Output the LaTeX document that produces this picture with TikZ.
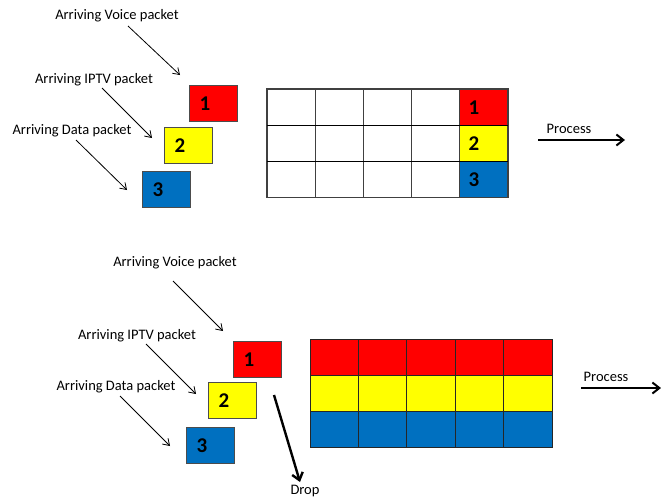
\documentclass[tikz,border=0pt]{standalone}
\usepackage{fontspec}
\setmainfont{Carlito}
\usetikzlibrary{arrows.meta}
\definecolor{pkred}{HTML}{FF0000}
\definecolor{pkyellow}{HTML}{FFFF00}
\definecolor{pkblue}{HTML}{0070C0}
\begin{document}
\begin{tikzpicture}[x=1pt,y=-1pt,
  packet/.style={draw=black!70, line width=1pt, minimum height=36pt,
    text width=28pt, inner xsep=10pt, inner ysep=0pt, align=left,
    font=\fontsize{21}{21}\selectfont\bfseries, anchor=north west},
  num/.style={font=\fontsize{21}{21}\selectfont\bfseries, inner sep=0pt},
  lbl/.style={font=\fontsize{14.5}{15}\selectfont, inner sep=0pt},
  feed/.style={line width=0.8pt, -{Straight Barb[length=6pt,width=8pt]}},
  flow/.style={line width=2pt, -{Straight Barb[length=7pt,width=11pt]}},
  cellline/.style={draw=black!75, line width=1.1pt}]
\useasboundingbox (0,0) rectangle (661,499);

% ---------- upper scenario ----------
\node[lbl] (tv) at (117,16) {Arriving Voice packet};
\node[lbl] (ti) at (94,80) {Arriving IPTV packet};
\node[lbl] (td) at (72,131) {Arriving Data packet};

\node[packet, fill=pkred]    (t1) at (189,85)  {1};
\node[packet, fill=pkyellow] (t2) at (164,127) {2};
\node[packet, fill=pkblue]   (t3) at (142,171) {3};

\coordinate (tva) at (128,26);  \coordinate (tvb) at (180,75);
\coordinate (tia) at (102,88);  \coordinate (tib) at (152,138);
\coordinate (tda) at (76,140);  \coordinate (tdb) at (127,190);
\draw[feed] (tva) -- (tvb);
\draw[feed] (tia) -- (tib);
\draw[feed] (tda) -- (tdb);

% queue: four empty columns and one filled column
\foreach \r/\col in {0/pkred,1/pkyellow,2/pkblue}{
  \foreach \c in {0,1,2,3}{
    \draw[cellline, fill=white] (267+48.2*\c, 89+36.3*\r) rectangle ++(48.2,36.3);
  }
  \draw[cellline, fill=\col] (267+48.2*4, 89+36.3*\r) rectangle ++(48.2,36.3);
}
\node[num] (q1) at (474,107.5) {1};
\node[num] (q2) at (474,143.8) {2};
\node[num] (q3) at (474,180.1) {3};
\draw[black, line width=1.6pt] (267,125.3) -- (508,125.3) (267,161.6) -- (508,161.6);

\node[lbl] (tp) at (569,129) {Process};
\coordinate (tpa) at (538,140); \coordinate (tpb) at (625,140);
\draw[flow] (tpa) -- (tpb);

% ---------- lower scenario ----------
\node[lbl] (bv) at (175,263) {Arriving Voice packet};
\node[lbl] (bi) at (137,336) {Arriving IPTV packet};
\node[lbl] (bd) at (116,387) {Arriving Data packet};

\node[packet, fill=pkred]    (b1) at (233,341) {1};
\node[packet, fill=pkyellow] (b2) at (208,382) {2};
\node[packet, fill=pkblue]   (b3) at (186,427) {3};

\coordinate (bva) at (173,281); \coordinate (bvb) at (223,331);
\coordinate (bia) at (146,344); \coordinate (bib) at (196,394);
\coordinate (bda) at (120,396); \coordinate (bdb) at (170,446);
\draw[feed] (bva) -- (bvb);
\draw[feed] (bia) -- (bib);
\draw[feed] (bda) -- (bdb);

% full queue
\foreach \r/\col in {0/pkred,1/pkyellow,2/pkblue}{
  \foreach \c in {0,...,4}{
    \draw[draw=black!85, line width=1pt, fill=\col] (310+48.4*\c, 339+36*\r) rectangle ++(48.4,36);
  }
}

\node[lbl] (bp) at (606,377) {Process};
\coordinate (bpa) at (581,388); \coordinate (bpb) at (661,388);
\draw[flow] (bpa) -- (bpb);

% overflow
\node[lbl] (drop) at (305,491) {Drop};
\coordinate (dra) at (274,395); \coordinate (drb) at (300,482);
\draw[flow, line width=2.4pt] (dra) -- (drb);
\end{tikzpicture}
\end{document}
